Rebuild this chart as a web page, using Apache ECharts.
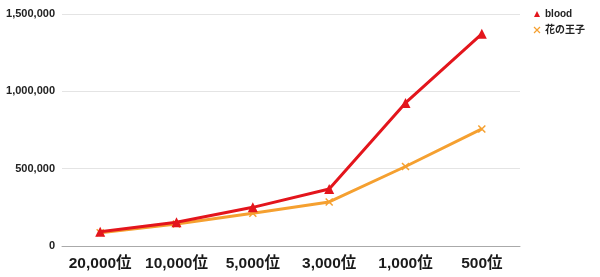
<!DOCTYPE html>
<html><head><meta charset="utf-8">
<script src="https://cdn.jsdelivr.net/npm/echarts@6/dist/echarts.min.js"></script>
<style>html,body{margin:0;padding:0;background:#fff}#c{width:600px;height:277px}</style>
</head><body><div id="c"></div>
<script>
const categories = ['20,000位','10,000位','5,000位','3,000位','1,000位','500位'];
const blood = [92000, 153000, 250000, 369000, 925000, 1372000];
const hananoouji = [86000, 142000, 212000, 285000, 514000, 757000];
const yTicks = [0, 500000, 1000000, 1500000];
const font = "'Liberation Sans', 'Noto Sans CJK JP', sans-serif";
const chart = echarts.init(document.getElementById('c'), null, {renderer:'canvas'});
chart.setOption({
  animation:false,
  textStyle:{fontFamily:font},
  grid:{left:62, right:80, top:14, bottom:31},
  legend:{
    orient:'vertical', right:10, top:4, itemWidth:6, itemHeight:6, itemGap:6,
    textStyle:{fontSize:10, fontWeight:'bold', color:'#222', fontFamily:font},
    data:[{name:'blood', icon:'triangle'},{name:'花の王子', icon:'path://M2,2L8,8M8,2L2,8', itemStyle:{borderColor:'#f5a030', borderWidth:1.2}}]
  },
  xAxis:{type:'category', data:categories, boundaryGap:true,
    axisLine:{lineStyle:{color:'#aaa', width:1}}, axisTick:{show:false},
    axisLabel:{fontSize:15.5, fontWeight:'bold', color:'#1a1a1a', margin:10, interval:0, fontFamily:font}},
  yAxis:{type:'value', min:yTicks[0], max:yTicks[yTicks.length-1], interval:500000,
    axisLine:{show:false}, axisTick:{show:false},
    splitLine:{lineStyle:{color:'#e4e4e4'}},
    axisLabel:{fontSize:11, fontWeight:'bold', color:'#222', margin:7, fontFamily:font,
      formatter:v=>v.toLocaleString('en-US')}},
  series:[
    {name:'花の王子', type:'line', data:hananoouji, color:'#f5a030', z:2,
      lineStyle:{width:3, color:'#f5a030'}, symbol:'path://M0,0L10,10M10,0L0,10', symbolSize:7,
      itemStyle:{color:'#f5a030', borderColor:'#f5a030', borderWidth:1.5}},
    {name:'blood', type:'line', data:blood, color:'#e3151c', z:3,
      lineStyle:{width:3, color:'#e3151c'}, symbol:'triangle', symbolSize:10,
      itemStyle:{color:'#e3151c'}}
  ]
});
</script></body></html>
